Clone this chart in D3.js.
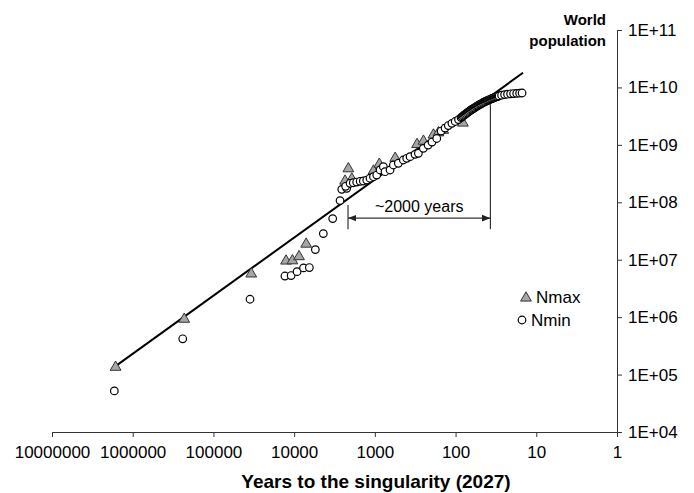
<!DOCTYPE html>
<html>
<head>
<meta charset="utf-8">
<script src="https://cdn.jsdelivr.net/npm/d3@7"></script>
<style>
  body { margin: 0; background: #fff; }
  text { font-family: "Liberation Sans", Arial, sans-serif; }
</style>
</head>
<body>
<div id="chart-area"></div>
<script>
// Data (years before 2027, population)
var nmaxYears = [1630000, 230000, 34000, 12600, 10500, 8700, 7100, 2340, 2130, 1930,
    1040, 880, 560, 300, 250, 188, 163, 142, 81];
var nmaxPop = [1.4e5, 9.6e5, 5.9e6, 9.9e6, 1.0e7, 1.18e7, 1.95e7, 2.44e8, 4.0e8, 2.65e8,
    3.65e8, 4.8e8, 6.1e8, 1.06e9, 1.21e9, 1.55e9, 1.69e9, 1.87e9, 2.5e9];

var nminYears = [1690000, 240000, 35200, 13000, 10900, 9200, 7650, 6480, 5460, 4350,
    3330, 2700, 2570, 2230, 2300, 2030, 1850, 1680, 1520, 1390,
    1260, 1150, 1040, 947, 862, 785, 748, 648, 590, 512,
    444, 403, 366, 318, 289, 251, 219, 196, 171, 151,
    135, 123, 111, 101, 92, 85.5, 83.1, 80.8, 78.5, 76.2,
    74.1, 72, 70, 68, 66.1, 64.3, 62.5, 60.7, 59, 57.3,
    55.7, 54.2, 52.7, 51.2, 49.7, 48.3, 46.9, 45.6, 44.3, 43.1,
    41.9, 40.7, 39.6, 38.5, 37.4, 36.3, 35.3, 34.3, 33.3, 32.4,
    31.5, 30.6, 29.7, 28.9, 26.9, 24.7, 22.7, 20.8, 19.1, 17.5,
    16.1, 15.0];
var nminPop = [5.2e4, 4.2e5, 2.05e6, 5.2e6, 5.3e6, 6.2e6, 7.2e6, 7.3e6, 1.5e7, 2.85e7,
    5.2e7, 1.07e8, 1.68e8, 1.75e8, 1.9e8, 2.14e8, 2.19e8, 2.25e8, 2.32e8, 2.35e8,
    2.44e8, 2.62e8, 2.79e8, 2.98e8, 3.65e8, 4.17e8, 3.41e8, 3.65e8, 4.46e8, 4.78e8,
    5.45e8, 5.83e8, 6.23e8, 6.84e8, 7.13e8, 8.7e8, 9.9e8, 1.12e9, 1.29e9, 1.74e9,
    1.96e9, 2.17e9, 2.37e9, 2.55e9, 2.76e9, 2.99e9, 3.08e9, 3.18e9, 3.28e9, 3.38e9,
    3.48e9, 3.59e9, 3.7e9, 3.81e9, 3.93e9, 4.05e9, 4.15e9, 4.26e9, 4.37e9, 4.49e9,
    4.61e9, 4.73e9, 4.84e9, 4.96e9, 5.07e9, 5.19e9, 5.3e9, 5.42e9, 5.53e9, 5.64e9,
    5.75e9, 5.87e9, 5.97e9, 6.08e9, 6.2e9, 6.31e9, 6.41e9, 6.52e9, 6.62e9, 6.73e9,
    6.82e9, 6.92e9, 7.02e9, 7.12e9, 7.33e9, 7.5e9, 7.62e9, 7.74e9, 7.83e9, 7.89e9,
    7.95e9, 8.0e9];

// hyperbolic trend line end points
var trendYears = [1630000, 14.6];
var trendPop = [1.4e5, 1.8e10];

var xTicks = [1e7, 1e6, 1e5, 1e4, 1e3, 1e2, 10, 1];
var yTicks = [1e4, 1e5, 1e6, 1e7, 1e8, 1e9, 1e10, 1e11];

// "~2000 years" bracket: years and population levels
var spanYears = [2150, 37];
var spanPop = { bottom: 3.4e7, arrow: 5.3e7, leftTop: 9e7, rightTop: 5.1e9 };

var width = 694, height = 493;

var svg = d3.select("#chart-area")
    .append("svg")
    .attr("width", width)
    .attr("height", height);

// SCALES
var x = d3.scaleLog().domain([1e7, 1]).range([52, 617]);
var y = d3.scaleLog().domain([1e4, 1e11]).range([432, 30]);

var axisColor = "#333";
var fontFamily = "Liberation Sans, Arial, sans-serif";

// X axis
var xAxis = d3.axisBottom(x)
    .tickValues(xTicks)
    .tickFormat(d3.format("d"))
    .tickSize(5)
    .tickSizeOuter(0)
    .tickPadding(9);
var xg = svg.append("g")
    .attr("transform", "translate(0," + y(1e4) + ")")
    .call(xAxis);
xg.selectAll("text").attr("font-size", "17px").attr("fill", "#000")
    .style("font-family", fontFamily);
xg.selectAll("line, path").attr("stroke", axisColor);

// Y axis on the right
var yAxis = d3.axisRight(y)
    .tickValues(yTicks)
    .tickFormat((d) => "1E+" + String(Math.round(Math.log10(d))).padStart(2, "0"))
    .tickSize(5)
    .tickSizeOuter(0)
    .tickPadding(6);
var yg = svg.append("g")
    .attr("transform", "translate(" + x(1) + ",0)")
    .call(yAxis);
yg.selectAll("text").attr("font-size", "17px").attr("fill", "#000")
    .style("font-family", fontFamily);
yg.selectAll("line, path").attr("stroke", axisColor);

// Axis titles
svg.append("text")
    .attr("x", 376)
    .attr("y", 488)
    .attr("text-anchor", "middle")
    .attr("font-size", "19px")
    .attr("font-weight", "bold")
    .text("Years to the singularity (2027)");

svg.append("text")
    .attr("x", 606)
    .attr("y", 25)
    .attr("text-anchor", "end")
    .attr("font-size", "15px")
    .attr("font-weight", "bold")
    .text("World");
svg.append("text")
    .attr("x", 606)
    .attr("y", 46)
    .attr("text-anchor", "end")
    .attr("font-size", "15px")
    .attr("font-weight", "bold")
    .text("population");

// Trend line
var line = d3.line()
    .x((d) => x(d[0]))
    .y((d) => y(d[1]));
svg.append("path")
    .datum(trendYears.map((t, i) => [t, trendPop[i]]))
    .attr("d", line)
    .attr("fill", "none")
    .attr("stroke", "#000")
    .attr("stroke-width", 2);

// Nmax triangles
var tri = d3.symbol().type(d3.symbolTriangle).size(50);
svg.append("g").selectAll("path")
    .data(nmaxYears.map((t, i) => [t, nmaxPop[i]]))
    .enter()
    .append("path")
    .attr("d", tri)
    .attr("transform", (d) => "translate(" + x(d[0]) + "," + (y(d[1]) + 1) + ")")
    .attr("fill", "#a6a6a6")
    .attr("stroke", "#333")
    .attr("stroke-width", 1);

// Nmin circles
svg.append("g").selectAll("circle")
    .data(nminYears.map((t, i) => [t, nminPop[i]]))
    .enter()
    .append("circle")
    .attr("cx", (d) => x(d[0]))
    .attr("cy", (d) => y(d[1]))
    .attr("r", 3.8)
    .attr("fill", "#fff")
    .attr("stroke", "#000")
    .attr("stroke-width", 1.2);

// "~2000 years" bracket
var defs = svg.append("defs");
["start", "end"].forEach((k) => {
    defs.append("marker")
        .attr("id", "arrow-" + k)
        .attr("viewBox", "0 0 10 10")
        .attr("refX", k == "end" ? 10 : 0)
        .attr("refY", 5)
        .attr("markerWidth", 7)
        .attr("markerHeight", 7)
        .attr("orient", "auto")
        .append("path")
        .attr("d", k == "end" ? "M0,1L10,5L0,9Z" : "M10,1L0,5L10,9Z")
        .attr("fill", "#222");
});

var ann = svg.append("g").attr("stroke", "#333").attr("stroke-width", 1.2);
ann.append("line")
    .attr("x1", x(spanYears[0])).attr("x2", x(spanYears[0]))
    .attr("y1", y(spanPop.leftTop)).attr("y2", y(spanPop.bottom));
ann.append("line")
    .attr("x1", x(spanYears[1])).attr("x2", x(spanYears[1]))
    .attr("y1", y(spanPop.rightTop)).attr("y2", y(spanPop.bottom));
ann.append("line")
    .attr("x1", x(spanYears[0])).attr("x2", x(spanYears[1]))
    .attr("y1", y(spanPop.arrow)).attr("y2", y(spanPop.arrow))
    .attr("marker-start", "url(#arrow-start)")
    .attr("marker-end", "url(#arrow-end)");

svg.append("text")
    .attr("x", (x(spanYears[0]) + x(spanYears[1])) / 2)
    .attr("y", y(spanPop.arrow) - 6)
    .attr("text-anchor", "middle")
    .attr("font-size", "16px")
    .text("~2000 years");

// Legend
var legend = svg.append("g");
legend.append("path")
    .attr("d", tri)
    .attr("transform", "translate(526,298)")
    .attr("fill", "#a6a6a6")
    .attr("stroke", "#333");
legend.append("text")
    .attr("x", 536).attr("y", 303)
    .attr("font-size", "17px")
    .text("Nmax");
legend.append("circle")
    .attr("cx", 522).attr("cy", 320).attr("r", 3.8)
    .attr("fill", "#fff").attr("stroke", "#000").attr("stroke-width", 1.2);
legend.append("text")
    .attr("x", 531).attr("y", 326)
    .attr("font-size", "17px")
    .text("Nmin");
</script>
</body>
</html>
